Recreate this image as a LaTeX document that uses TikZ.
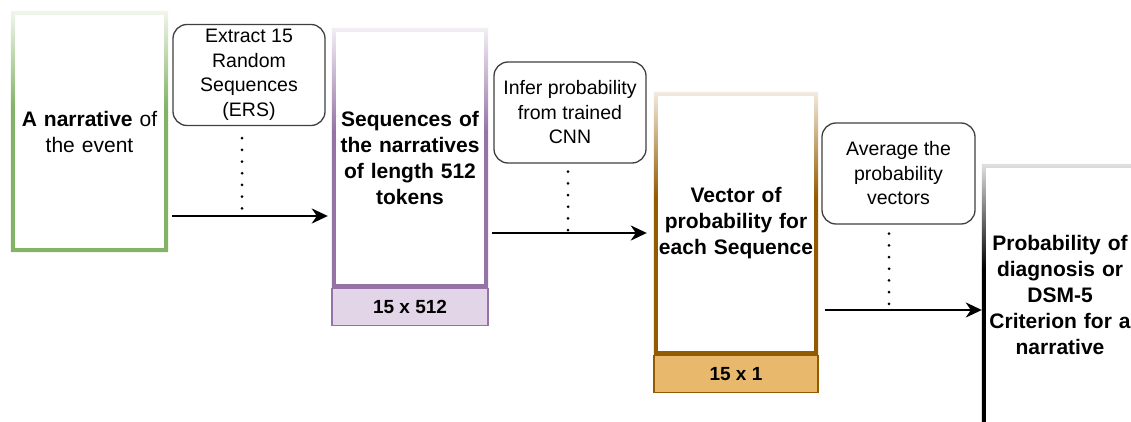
\documentclass[tikz,border=0pt]{standalone}
\usepackage{fontspec}
\setmainfont{Liberation Sans}
\usetikzlibrary{arrows.meta}

% colours
\definecolor{narcol}{HTML}{82B366}
\definecolor{seqcol}{HTML}{9673A6}
\definecolor{seqfill}{HTML}{E1D5E7}
\definecolor{veccol}{HTML}{935A00}
\definecolor{vecfill}{HTML}{E8B86C}

% frame fading to white at the top
\pgfdeclareverticalshading[framecol]{framegrad}{100bp}{color(0bp)=(framecol); color(25bp)=(framecol); color(55bp)=(framecol); color(75bp)=(white!88!framecol); color(100bp)=(white!88!framecol)}

\newcommand\gradframe[2]{%
  \colorlet{framecol}{#2}%
  \shade[shading=framegrad, even odd rule] (#1.north west) rectangle (#1.south east)
    ([shift={(4,4)}]#1.north west) rectangle ([shift={(-4,-4)}]#1.south east);}

\begin{document}
\begin{tikzpicture}[x=1pt, y=-1pt,
  stage/.style={inner sep=0pt, align=center, text width=150pt, font=\fontsize{21}{26}\selectfont\bfseries},
  stepbox/.style={draw=black!75, line width=1.3pt, rounded corners=14pt, align=center, minimum width=152pt, minimum height=101pt, inner sep=0pt, font=\fontsize{19.5}{24.5}\selectfont},
  tag/.style={line width=1.2pt, anchor=north, minimum height=37pt, inner sep=0pt, font=\fontsize{19}{22}\selectfont\bfseries},
  arrow/.style={line width=2.3pt, -{Stealth[length=16pt, width=15pt, inset=5pt]}},
  dots/.style={line width=3pt, line cap=round, dash pattern=on 0pt off 11.7pt}]

  \useasboundingbox (0,0) rectangle (1131,422);
  \fill[white] (0,0) rectangle (1131,422);
  \clip (0,0) rectangle (1131,422);

  % stages
  \node[stage, font=\fontsize{21}{26}\selectfont, minimum width=157pt, minimum height=241pt] (nar) at (89.5,131.5)
    {\textbf{A narrative} of\\the event};
  \node[stage, minimum width=156pt, minimum height=260pt] (seq) at (410,158)
    {Sequences of\\the narratives\\of length 512\\tokens};
  \node[stage, text width=162pt, minimum width=164pt, minimum height=263pt] (vec) at (736,223.5)
    {Vector of\\probability for\\each Sequence};
  \node[stage, minimum width=156pt, minimum height=262pt] (prob) at (1060,295)
    {Probability of\\diagnosis or\\DSM-5\\Criterion for a\\narrative};

  \gradframe{nar}{narcol}
  \gradframe{seq}{seqcol}
  \gradframe{vec}{veccol}
  \gradframe{prob}{black}

  % sizes
  \node[tag, draw=seqcol, fill=seqfill, minimum width=156pt] (seqtag) at (seq.south) {15 x 512};
  \node[tag, draw=veccol, fill=vecfill, minimum width=164pt] (vectag) at (vec.south) {15 x 1};

  % steps
  \node[stepbox] (ers) at (249,75) {Extract 15\\Random\\Sequences\\(ERS)};
  \node[stepbox] (inf) at (570,112.5) {Infer probability\\from trained\\CNN};
  \node[stepbox, minimum width=153pt] (avg) at (898.5,173.5) {Average the\\probability\\vectors};

  % arrows
  \coordinate (a1) at (172,216);
  \coordinate (a2) at (492,233);
  \coordinate (a3) at (825,310);
  \draw[arrow, shorten >=4pt] (a1) -- (a1 -| seq.west);
  \draw[arrow, shorten >=7pt] (a2) -- (a2 -| vec.west);
  \draw[arrow] (a3) -- (a3 -| prob.west);

  \draw[dots] ([shift={(-7,12)}]ers.south) -- ++(0,71);
  \draw[dots] ([shift={(-2,8)}]inf.south) -- ++(0,59);
  \draw[dots] ([shift={(-9.5,9)}]avg.south) -- ++(0,71);

\end{tikzpicture}
\end{document}
